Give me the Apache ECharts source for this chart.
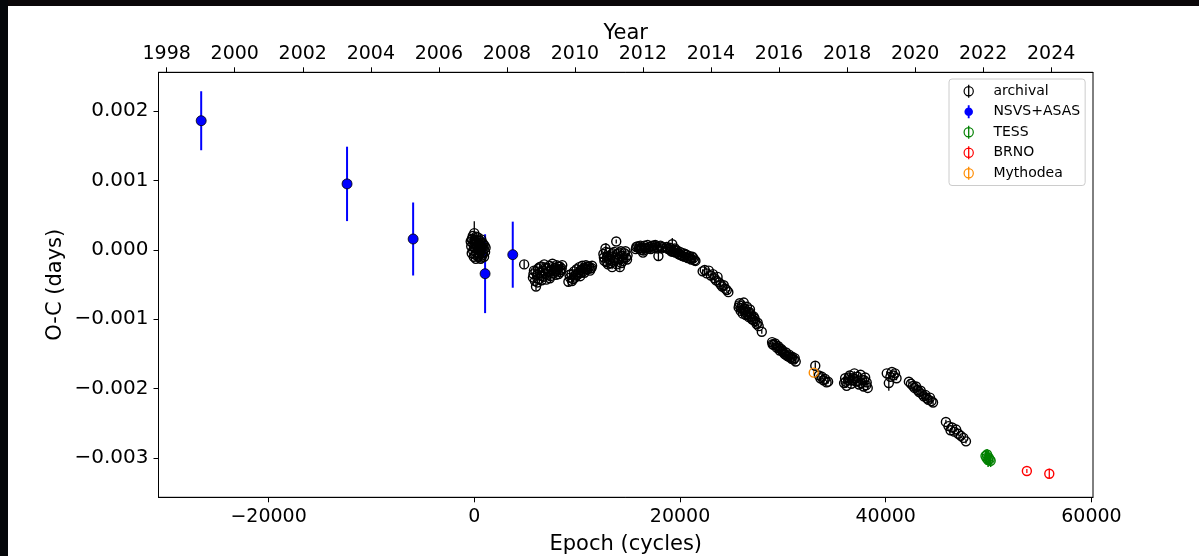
<!DOCTYPE html>
<html><head><meta charset="utf-8">
<script src="https://cdn.jsdelivr.net/npm/echarts@6/dist/echarts.min.js"></script>
<style>html,body{margin:0;padding:0;background:#fff}#c{width:1199px;height:556px}</style>
</head><body><div id="c"></div>
<script>
// ---- tick labels ----
const epochTicks = [-20000, 0, 20000, 40000, 60000];
const ocTicks = [-0.003, -0.002, -0.001, 0.000, 0.001, 0.002];
const yearTicks = [1998, 2000, 2002, 2004, 2006, 2008, 2010, 2012, 2014, 2016, 2018, 2020, 2022, 2024];

// ---- archival: [epoch, O-C, error] ----
const archival = [
  [-350,0.00012,3e-5],[-300,0.00005,3e-5],[-250,-0.00005,3e-5],[-150,0.00020,3e-5],[-100,0.00009,3e-5],
  [-50,-0.00010,3e-5],[0,0.00024,0.00017],[50,0.00015,3e-5],[100,0.00002,3e-5],[150,-0.00013,3e-5],
  [200,0.00011,3e-5],[250,0.00006,3e-5],[300,-0.00004,3e-5],[350,0.00018,3e-5],[400,0.00008,3e-5],
  [450,-0.00008,3e-5],[500,0.00003,3e-5],[550,0.00013,3e-5],[600,-0.00002,3e-5],[650,0.00007,3e-5],
  [700,-0.00011,3e-5],[750,0.00004,3e-5],[800,0.00010,3e-5],[850,-0.00005,3e-5],[900,0.00001,3e-5],
  [1000,0.00006,3e-5],[1050,-0.00003,3e-5],
  [-200,0.00016,3e-5],[-120,-0.00001,3e-5],[-20,0.00004,3e-5],[80,-0.00007,3e-5],[180,0.00019,3e-5],
  [280,0.00013,3e-5],[380,-0.00010,3e-5],[480,0.00010,3e-5],[580,0.00005,3e-5],[680,0.00015,3e-5],
  [780,-0.00008,3e-5],[880,0.00008,3e-5],[950,-0.00010,3e-5],[1100,0.00003,3e-5],[-250,0.00015,3e-5],
  [120,0.00009,3e-5],[620,-0.00013,3e-5],
  [4850,-0.00021,6e-5],
  [5700,-0.00040,3e-5],[5800,-0.00030,3e-5],[5900,-0.00045,3e-5],[6000,-0.00053,6e-5],[6100,-0.00036,3e-5],
  [6200,-0.00027,3e-5],[6300,-0.00042,3e-5],[6400,-0.00033,3e-5],[6500,-0.00024,3e-5],[6600,-0.00038,3e-5],
  [6700,-0.00030,3e-5],[6800,-0.00021,3e-5],[6900,-0.00035,3e-5],[7000,-0.00043,3e-5],[7100,-0.00027,3e-5],
  [7200,-0.00032,3e-5],[7300,-0.00023,3e-5],[7400,-0.00038,3e-5],[7500,-0.00029,3e-5],[7600,-0.00020,3e-5],
  [7700,-0.00034,3e-5],[7800,-0.00026,3e-5],[7900,-0.00031,3e-5],[8000,-0.00022,3e-5],[8100,-0.00028,3e-5],
  [8200,-0.00035,3e-5],[8300,-0.00024,3e-5],[8400,-0.00029,3e-5],[8550,-0.00022,3e-5],
  [5750,-0.00035,3e-5],[5950,-0.00031,3e-5],[6150,-0.00047,3e-5],[6350,-0.00025,3e-5],[6550,-0.00044,3e-5],
  [6750,-0.00039,3e-5],[6950,-0.00026,3e-5],[7150,-0.00036,3e-5],[7350,-0.00041,3e-5],[7550,-0.00025,3e-5],
  [7750,-0.00030,3e-5],[7950,-0.00036,3e-5],[8150,-0.00024,3e-5],[8350,-0.00032,3e-5],[8500,-0.00027,3e-5],
  [9150,-0.00046,7e-5],[9300,-0.00040,3e-5],[9450,-0.00035,3e-5],[9600,-0.00042,3e-5],[9700,-0.00031,3e-5],
  [9850,-0.00037,3e-5],[9950,-0.00028,3e-5],[10100,-0.00033,3e-5],[10200,-0.00025,3e-5],[10300,-0.00038,3e-5],
  [10400,-0.00029,3e-5],[10500,-0.00023,3e-5],[10600,-0.00031,3e-5],[10750,-0.00026,3e-5],[10850,-0.00022,3e-5],
  [11000,-0.00028,3e-5],[11150,-0.00024,3e-5],[11300,-0.00027,3e-5],[11450,-0.00023,3e-5],
  [9250,-0.00036,3e-5],[9500,-0.00045,3e-5],[9800,-0.00040,3e-5],[10050,-0.00036,3e-5],[10350,-0.00033,3e-5],
  [10550,-0.00027,3e-5],[10700,-0.00033,3e-5],[10950,-0.00024,3e-5],[11250,-0.00030,3e-5],[11400,-0.00026,3e-5],
  [12550,-0.00006,3e-5],[12650,-0.00016,3e-5],[12750,0.00002,3e-5],[12800,-0.00003,0.00013],[12900,-0.00011,3e-5],
  [13000,-0.00021,3e-5],[13100,-0.00004,3e-5],[13200,-0.00014,3e-5],[13300,-0.00008,3e-5],[13400,-0.00025,3e-5],
  [13500,-0.00017,3e-5],[13600,-0.00003,3e-5],[13700,-0.00011,3e-5],[13800,0.00012,3e-5],[13850,-0.00021,3e-5],
  [13950,-0.00006,3e-5],[14050,-0.00014,3e-5],[14150,-0.00025,5e-5],[14250,-0.00002,3e-5],[14350,-0.00009,3e-5],
  [14450,-0.00016,3e-5],[14600,-0.00005,3e-5],[14750,-0.00011,3e-5],[14900,-0.00008,3e-5],
  [12600,-0.00011,3e-5],[12850,-0.00018,3e-5],[13050,-0.00009,3e-5],[13250,-0.00019,3e-5],[13450,-0.00005,3e-5],
  [13650,-0.00015,3e-5],[13900,-0.00013,3e-5],[14100,-0.00004,3e-5],[14300,-0.00019,3e-5],[14500,-0.00012,3e-5],
  [14700,-0.00002,3e-5],[14850,-0.00014,3e-5],
  [15700,0.00001,3e-5],[15850,0.00005,3e-5],[16000,0.00002,3e-5],[16150,0.00006,3e-5],[16300,0.00003,3e-5],
  [16400,-0.00004,3e-5],[16450,-0.00001,3e-5],[16550,0.00006,3e-5],[16700,0.00003,3e-5],[16850,0.00007,3e-5],
  [17000,0.00004,3e-5],[17150,0.00001,3e-5],[17300,0.00006,3e-5],[17450,0.00003,3e-5],[17600,0.00007,3e-5],
  [17750,0.00004,3e-5],[17900,-0.00009,6e-5],[18050,0.00005,3e-5],[18200,0.00002,3e-5],
  [15750,0.00004,3e-5],[16050,0.00005,3e-5],[16250,0.00000,3e-5],[16600,0.00002,3e-5],[16950,0.00002,3e-5],
  [17200,0.00005,3e-5],[17500,0.00006,3e-5],[17800,0.00002,3e-5],[18100,0.00006,3e-5],[18300,0.00004,3e-5],
  [18700,0.00004,3e-5],[18850,0.00001,3e-5],[19000,0.00003,3e-5],[19150,-0.00002,3e-5],[19250,0.00008,9e-5],
  [19400,0.00000,3e-5],[19550,-0.00004,3e-5],[19700,-0.00001,3e-5],[19850,-0.00006,3e-5],[20000,-0.00003,3e-5],
  [20150,-0.00008,3e-5],[20300,-0.00005,3e-5],[20450,-0.00010,3e-5],[20600,-0.00007,3e-5],[20750,-0.00012,3e-5],
  [20900,-0.00009,3e-5],[21100,-0.00014,3e-5],[21300,-0.00012,3e-5],[21500,-0.00016,3e-5],
  [18800,0.00002,3e-5],[19050,0.00000,3e-5],[19300,-0.00003,3e-5],[19500,0.00002,3e-5],[19750,-0.00004,3e-5],
  [19950,-0.00007,3e-5],[20250,-0.00009,3e-5],[20500,-0.00006,3e-5],[20800,-0.00011,3e-5],[21000,-0.00012,3e-5],
  [21200,-0.00010,3e-5],[21400,-0.00015,3e-5],
  [22200,-0.00031,3e-5],[22400,-0.00029,6e-5],[22600,-0.00034,3e-5],[22800,-0.00030,3e-5],[23000,-0.00037,3e-5],
  [23200,-0.00035,3e-5],[23350,-0.00041,3e-5],[23500,-0.00044,3e-5],[23650,-0.00039,3e-5],[23800,-0.00047,3e-5],
  [23950,-0.00050,3e-5],[24100,-0.00053,3e-5],[24250,-0.00051,3e-5],[24400,-0.00056,3e-5],[24550,-0.00058,3e-5],
  [24700,-0.00061,3e-5],
  [25700,-0.00083,3e-5],[25800,-0.00077,3e-5],[25900,-0.00088,3e-5],[26000,-0.00080,3e-5],[26100,-0.00092,3e-5],
  [26200,-0.00076,3e-5],[26300,-0.00085,3e-5],[26400,-0.00094,3e-5],[26500,-0.00082,3e-5],[26600,-0.00089,3e-5],
  [26700,-0.00097,3e-5],[26800,-0.00086,3e-5],[26900,-0.00093,3e-5],[27000,-0.00100,3e-5],[27150,-0.00096,3e-5],
  [27300,-0.00103,3e-5],[27450,-0.00107,3e-5],[27650,-0.00110,3e-5],[27950,-0.00118,3e-5],
  [25750,-0.00080,3e-5],[25950,-0.00084,3e-5],[26150,-0.00087,3e-5],[26350,-0.00090,3e-5],[26550,-0.00093,3e-5],
  [26750,-0.00090,3e-5],[26950,-0.00096,3e-5],[27100,-0.00101,3e-5],[27250,-0.00099,3e-5],[27550,-0.00105,3e-5],
  [28950,-0.00133,3e-5],[29100,-0.00137,3e-5],[29250,-0.00135,3e-5],[29400,-0.00141,3e-5],[29550,-0.00139,3e-5],
  [29700,-0.00145,3e-5],[29850,-0.00143,3e-5],[30000,-0.00147,3e-5],[30150,-0.00150,3e-5],[30300,-0.00148,3e-5],
  [30450,-0.00153,3e-5],[30600,-0.00151,3e-5],[30750,-0.00155,3e-5],[30900,-0.00154,3e-5],[31050,-0.00158,3e-5],
  [31250,-0.00161,3e-5],
  [29000,-0.00136,3e-5],[29350,-0.00138,3e-5],[29650,-0.00142,3e-5],[29950,-0.00145,3e-5],[30250,-0.00151,3e-5],
  [30550,-0.00154,3e-5],[30850,-0.00157,3e-5],[31150,-0.00156,3e-5],
  [33150,-0.00167,5e-5],[33500,-0.00181,3e-5],[33650,-0.00185,3e-5],[33800,-0.00183,3e-5],[33950,-0.00188,3e-5],
  [34100,-0.00186,3e-5],[34250,-0.00191,3e-5],[34400,-0.00190,3e-5],
  [35950,-0.00192,5e-5],[36050,-0.00185,3e-5],[36200,-0.00196,3e-5],[36350,-0.00188,3e-5],[36500,-0.00181,3e-5],
  [36650,-0.00193,3e-5],[36800,-0.00185,3e-5],[36950,-0.00178,3e-5],[37100,-0.00190,3e-5],[37250,-0.00183,3e-5],
  [37400,-0.00194,3e-5],[37550,-0.00180,3e-5],[37700,-0.00187,3e-5],[37850,-0.00197,3e-5],[38000,-0.00184,3e-5],
  [38150,-0.00191,3e-5],[38250,-0.00199,3e-5],
  [36100,-0.00190,3e-5],[36400,-0.00184,3e-5],[36700,-0.00188,3e-5],[37000,-0.00186,3e-5],[37300,-0.00189,3e-5],
  [37600,-0.00192,3e-5],[37900,-0.00188,3e-5],[38100,-0.00195,3e-5],
  [40100,-0.00178,3e-5],[40300,-0.00192,1.1e-4],[40450,-0.00183,3e-5],[40600,-0.00176,3e-5],[40750,-0.00181,3e-5],
  [40900,-0.00178,3e-5],[41050,-0.00185,3e-5],
  [42250,-0.00190,3e-5],[42450,-0.00193,3e-5],[42650,-0.00196,3e-5],[42800,-0.00199,3e-5],[42950,-0.00197,3e-5],
  [43100,-0.00202,3e-5],[43250,-0.00205,3e-5],[43400,-0.00203,3e-5],[43550,-0.00208,3e-5],[43700,-0.00211,3e-5],
  [43850,-0.00209,3e-5],[44000,-0.00214,3e-5],[44150,-0.00216,3e-5],[44300,-0.00213,3e-5],[44450,-0.00218,3e-5],
  [44600,-0.00220,3e-5],
  [45850,-0.00248,3e-5],[46100,-0.00254,3e-5],[46300,-0.00260,3e-5],[46450,-0.00256,3e-5],[46650,-0.00262,3e-5],
  [46850,-0.00259,3e-5],[47050,-0.00265,3e-5],[47300,-0.00268,3e-5],[47550,-0.00271,3e-5],[47800,-0.00276,3e-5]
];
const nsvsAsas = [
  [-26550,0.00186,0.000425],[-12370,0.00095,0.000536],[-5945,0.000156,0.000526],
  [1050,-0.000344,0.000568],[3740,-0.00007,0.000476]
];
const tess = [
  [49700,-0.00297,9e-5],[49800,-0.00300,1e-4],[49850,-0.00295,8e-5],[49950,-0.00303,1e-4],
  [50000,-0.00299,1e-4],[50100,-0.00302,9e-5],[50200,-0.00304,9e-5]
];
const brno = [[53720,-0.003187,3e-5],[55900,-0.003226,7e-5]];
const mythodea = [[33000,-0.00177,3e-5]];

const FONT = 'DejaVu Sans';
const ringIcon = 'path://M-19.7 0L-19.7 0Z M19.7 0L19.7 0Z ' +
  'M-5.2 0A5.2 5.2 0 1 1 5.2 0A5.2 5.2 0 1 1 -5.2 0Z M-4 0A4 4 0 1 0 4 0A4 4 0 1 0 -4 0Z ' +
  'M-0.65 -6.5L0.65 -6.5L0.65 6.5L-0.65 6.5Z';
const dotIcon = 'path://M-19.7 0L-19.7 0Z M19.7 0L19.7 0Z ' +
  'M-4.6 0A4.6 4.6 0 1 1 4.6 0A4.6 4.6 0 1 1 -4.6 0Z ' +
  'M-1 -7L1 -7L1 7L-1 7Z';

function errSeries(name, data, color, width) {
  return {
    type: 'custom', name: name, data: data, silent: true,
    encode: { x: 0, y: 1 },
    renderItem: function (params, api) {
      const x = api.value(0), y = api.value(1), e = api.value(2);
      const p1 = api.coord([x, y + e]), p2 = api.coord([x, y - e]);
      return { type: 'line', shape: { x1: p1[0], y1: p1[1], x2: p2[0], y2: p2[1] },
               style: { stroke: color, lineWidth: width } };
    }
  };
}
function openSeries(name, data, color, size) {
  return {
    type: 'scatter', name: name, data: data, symbol: 'circle', symbolSize: size,
    itemStyle: { color: 'rgba(0,0,0,0)', borderColor: color, borderWidth: 1.4, opacity: 1 },
    emphasis: { disabled: true }
  };
}
const axLine = { show: true, onZero: false, lineStyle: { color: '#000', width: 1 } };
const tickStyle = { show: true, inside: false, length: 5, lineStyle: { color: '#000', width: 1 } };

const minus = s => s.replace('-', '\u2212');
const chart = echarts.init(document.getElementById('c'), null, { renderer: 'canvas' });
chart.setOption({
  animation: false,
  backgroundColor: '#ffffff',
  textStyle: { fontFamily: FONT },
  graphic: [
    { type: 'rect', shape: { x: 0, y: 0, width: 1199, height: 6 }, style: { fill: '#0b0709' } },
    { type: 'rect', shape: { x: 0, y: 0, width: 8, height: 556 }, style: { fill: '#05070a' } }
  ],
  grid: { left: 158.5, right: 106, top: 72.3, bottom: 58.7, show: true, outerBoundsMode: 'none',
          containLabel: false,
          borderColor: '#000', borderWidth: 1, backgroundColor: 'transparent' },
  legend: {
    left: 949, top: 79, orient: 'vertical', selectedMode: false,
    itemWidth: 39.4, itemHeight: 13, itemGap: 6.5,
    padding: [5.2, 5, 5.3, 0],
    backgroundColor: 'rgba(255,255,255,0.8)', borderColor: '#cccccc', borderWidth: 1, borderRadius: 3,
    textStyle: { fontFamily: FONT, fontSize: 14, color: '#000', lineHeight: 13 },
    data: [
      { name: 'archival', icon: ringIcon, itemStyle: { color: '#000', borderWidth: 0 } },
      { name: 'NSVS+ASAS', icon: dotIcon, itemStyle: { color: '#0000ff', borderWidth: 0 } },
      { name: 'TESS', icon: ringIcon, itemStyle: { color: '#008000', borderWidth: 0 } },
      { name: 'BRNO', icon: ringIcon, itemStyle: { color: '#ff0000', borderWidth: 0 } },
      { name: 'Mythodea', icon: ringIcon, itemStyle: { color: '#ff8c00', borderWidth: 0 } }
    ]
  },
  xAxis: [
    { type: 'value', position: 'bottom', min: -30700, max: 60150,
      name: 'Epoch (cycles)', nameLocation: 'middle', nameGap: 37, nameMoveOverlap: false,
      nameTextStyle: { fontFamily: FONT, fontSize: 21, color: '#000' },
      axisLine: axLine, splitLine: { show: false },
      axisTick: Object.assign({ customValues: epochTicks }, tickStyle),
      axisLabel: { customValues: epochTicks, margin: 10, fontFamily: FONT, fontSize: 19, color: '#000',
                   formatter: v => minus(String(v)) } },
    { type: 'value', position: 'top', min: 1997.759, max: 2025.23,
      name: 'Year', nameLocation: 'middle', nameGap: 28, nameMoveOverlap: false,
      nameTextStyle: { fontFamily: FONT, fontSize: 21, color: '#000' },
      axisLine: axLine, splitLine: { show: false },
      axisTick: Object.assign({ customValues: yearTicks }, tickStyle),
      axisLabel: { customValues: yearTicks, margin: 9, fontFamily: FONT, fontSize: 19, color: '#000',
                   formatter: v => String(v) } }
  ],
  yAxis: [
    { type: 'value', min: -0.003566, max: 0.002558,
      name: 'O-C (days)', nameLocation: 'middle', nameGap: 92, nameRotate: 90, nameMoveOverlap: false,
      nameTextStyle: { fontFamily: FONT, fontSize: 21, color: '#000' },
      axisLine: axLine, splitLine: { show: false },
      axisTick: Object.assign({ customValues: ocTicks }, tickStyle),
      axisLabel: { customValues: ocTicks, margin: 10, fontFamily: FONT, fontSize: 20, color: '#000',
                   formatter: v => minus(Math.abs(v) < 1e-12 ? '0.000' : v.toFixed(3)) } }
  ],
  series: [
    errSeries('archival', archival, '#000', 1.3),
    openSeries('archival', archival, '#000', 9),
    errSeries('NSVS+ASAS', nsvsAsas, '#0000ff', 2),
    { type: 'scatter', name: 'NSVS+ASAS', data: nsvsAsas, symbol: 'circle', symbolSize: 10,
      itemStyle: { color: '#0000ff', borderColor: '#000', borderWidth: 0.8, opacity: 1 },
      emphasis: { disabled: true } },
    errSeries('TESS', tess, '#008000', 1.5),
    openSeries('TESS', tess, '#008000', 9),
    errSeries('BRNO', brno, '#ff0000', 1.3),
    openSeries('BRNO', brno, '#ff0000', 9),
    errSeries('Mythodea', mythodea, '#ff8c00', 1.3),
    openSeries('Mythodea', mythodea, '#ff8c00', 9)
  ]
});
</script></body></html>
